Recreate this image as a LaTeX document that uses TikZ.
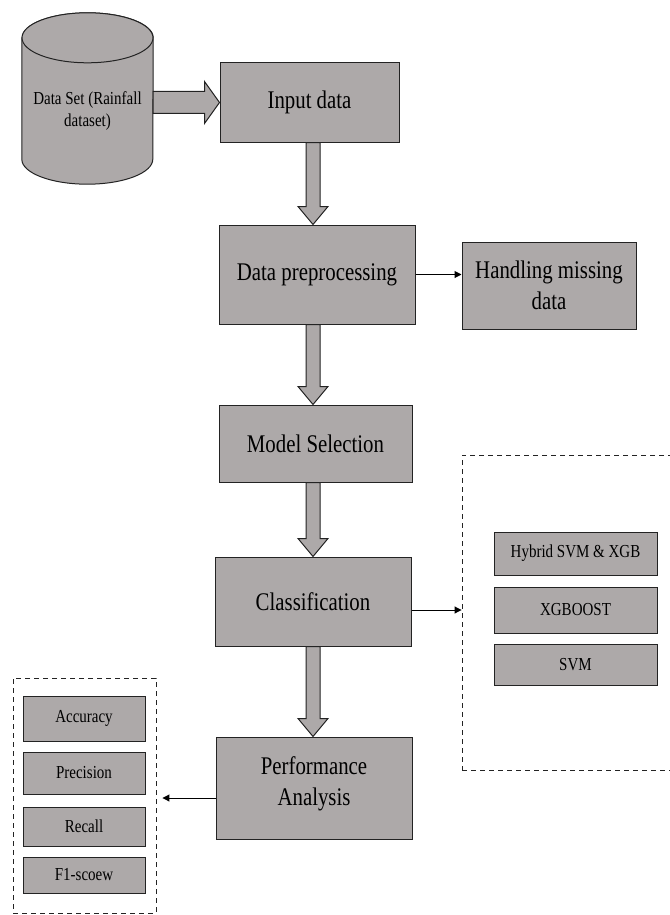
\documentclass[tikz,border=0pt]{standalone}
\usepackage{fontspec}
\setmainfont{Liberation Serif}[FakeStretch=0.82]
\usetikzlibrary{arrows.meta,calc}

\definecolor{boxgray}{RGB}{173,169,169}
\definecolor{edgegray}{RGB}{35,35,35}

% wide hollow arrow pointing down, between two stacked boxes
\newcommand{\downblock}[2]{%
  \draw[blockarrow] ($(#1.south -| spine)+(-7pt,0pt)$)
    -- ($(#2.north -| spine)+(-7pt,18pt)$) -- ($(#2.north -| spine)+(-15pt,18pt)$)
    -- (#2.north -| spine)
    -- ($(#2.north -| spine)+(15pt,18pt)$) -- ($(#2.north -| spine)+(7pt,18pt)$)
    -- ($(#1.south -| spine)+(7pt,0pt)$) -- cycle;}
% wide hollow arrow pointing right
\newcommand{\rightblock}[2]{%
  \draw[blockarrow] ($(#2.west -| #1.east)+(0pt,11pt)$)
    -- ($(#2.west)+(-15pt,11pt)$) -- ($(#2.west)+(-15pt,21pt)$)
    -- (#2.west)
    -- ($(#2.west)+(-15pt,-21pt)$) -- ($(#2.west)+(-15pt,-11pt)$)
    -- ($(#2.west -| #1.east)+(0pt,-11pt)$) -- cycle;}

\begin{document}
\begin{tikzpicture}[
    x=1pt, y=-1pt,
    bigfont/.style={font=\fontsize{25.4}{30.5}\selectfont},
    smallfont/.style={font=\fontsize{18.3}{22}\selectfont},
    stagebox/.style={draw=edgegray, line width=1pt, fill=boxgray,
                     bigfont, align=center, inner sep=0pt},
    itembox/.style={draw=edgegray, line width=1pt, fill=boxgray,
                    smallfont, inner sep=0pt, minimum width=#1},
    groupbox/.style={draw=edgegray, line width=0.9pt,
                     dash pattern=on 5pt off 4pt, inner sep=0pt},
    blockarrow/.style={draw=edgegray, line width=1pt, fill=boxgray},
    thinarrow/.style={draw=black, line width=1pt,
                      -{Triangle[length=7pt,width=7pt]}},
    cylcap/.style={x radius=65.5pt, y radius=25pt},
]
\useasboundingbox (0,0) rectangle (669,915);
\coordinate (spine) at (313,0);

% data source (drum)
\node [minimum width=131pt, minimum height=121pt, inner sep=0pt]
      (dataset) at (87.5,98.5) {};
\draw [blockarrow] (dataset.north west) -- (dataset.south west)
      arc [start angle=180, end angle=360, cylcap]
      -- (dataset.north east)
      arc [start angle=0, end angle=180, cylcap] -- cycle;
\draw [blockarrow] (dataset.north) ellipse [cylcap];
\node [smallfont, align=center] (dslabel) at (87.5,111)
      {Data Set (Rainfall\\dataset)};

% main stages
\node [stagebox, minimum width=179pt, minimum height=79pt]
      (input) at (309.5,102.5) {Input data};
\node [stagebox, minimum width=196pt, minimum height=99pt]
      (preproc) at (317,274.5) {Data preprocessing};
\node [stagebox, minimum width=174pt, minimum height=87pt]
      (missing) at (549,285.5) {Handling missing\\data};
\node [stagebox, minimum width=193pt, minimum height=77pt]
      (modelsel) at (315.5,443.5) {Model Selection};
\node [stagebox, minimum width=196pt, minimum height=89pt]
      (classif) at (313,601.5) {Classification};
\node [stagebox, minimum width=196pt, minimum height=102pt,
       text depth=14pt] (perf) at (314,788) {Performance\\Analysis};

% classifiers
\node [groupbox, minimum width=218pt, minimum height=315pt]
      (clsgroup) at (571,612.5) {};
\node [itembox=163pt, minimum height=43pt] (hybrid) at (575.5,553.5)
      {Hybrid SVM \& XGB};
\node [itembox=163pt, minimum height=46pt] (xgb) at (575.5,610) {XGBOOST};
\node [itembox=163pt, minimum height=41pt] (svm) at (575.5,664.5) {SVM};

% metrics
\node [groupbox, minimum width=143pt, minimum height=235pt]
      (metricgroup) at (84.5,795.5) {};
\node [itembox=122pt, minimum height=45pt] (accuracy) at (84,718.5) {Accuracy};
\node [itembox=122pt, minimum height=42pt] (precision) at (84,773) {Precision};
\node [itembox=122pt, minimum height=39pt] (recall) at (84,826.5) {Recall};
\node [itembox=122pt, minimum height=36pt] (fscore) at (84,875) {F1-scoew};

% connectors
\rightblock{dataset}{input}
\downblock{input}{preproc}
\downblock{preproc}{modelsel}
\downblock{modelsel}{classif}
\downblock{classif}{perf}

\draw [thinarrow] (preproc.east) -- (preproc.east -| missing.west);
\draw [thinarrow] ($(classif.east)+(0pt,-8.5pt)$)
      -- ($(classif.east -| clsgroup.west)+(0pt,-8.5pt)$);
\draw [thinarrow, shorten >=6pt] ($(perf.west)+(0pt,-10pt)$)
      -- ($(perf.west -| metricgroup.east)+(0pt,-10pt)$);

\end{tikzpicture}
\end{document}
